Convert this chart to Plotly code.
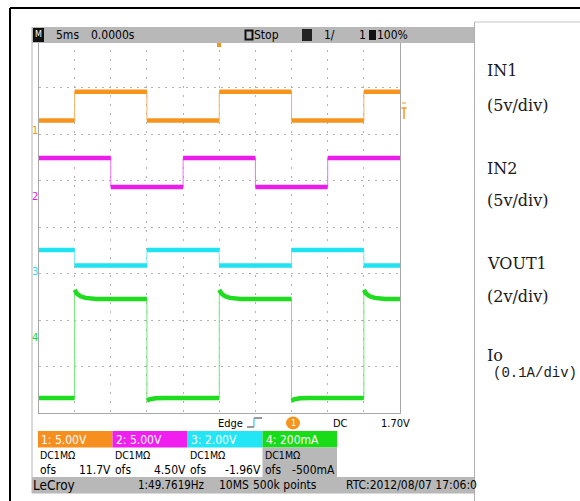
import plotly.graph_objects as go

W, H = 580, 501

time_range_ms = [-25, 25]          # 5 ms/div, 10 divisions, trigger at centre
div_range = [-4, 4]                # 8 vertical divisions

ch_labels = ["1", "2", "3", "4"]
ch_scale = [5.0, 5.0, 2.0, 0.2]            # V/div (A/div for ch4)
ch_offset = [11.7, 4.50, -1.96, -0.50]     # offset in V (A for ch4)
ch_scale_text = ["1: 5.00V", "2: 5.00V", "3: 2.00V", "4: 200mA"]
ch_coupling_text = ["DC1MΩ", "DC1MΩ", "DC1MΩ", "DC1MΩ"]
ch_offset_text = ["11.7V", "4.50V", "-1.96V", "-500mA"]

# segment start times (ms) and levels
ch1_seg_t = [-25, -20, -10, 0, 10, 20]
ch1_seg_v = [-0.25, 2.85, -0.25, 2.85, -0.25, 2.85]
ch2_seg_t = [-25, -15, -5, 5, 15]
ch2_seg_v = [2.92, -0.20, 2.92, -0.20, 2.92]
ch3_seg_t = [-25, -20, -10, 0, 10, 20]
ch3_seg_v = [0.97, 0.30, 0.97, 0.30, 0.97, 0.30]
ch4_seg_t = [-25, -20, -10, 0, 10, 20]
ch4_seg_v = [-0.235, 0.190, -0.235, 0.190, -0.235, 0.190]
# ch4 settling after each edge (ms after edge, extra A)
ch4_rise_dt = [0.0, 0.3, 0.8, 1.5, 3.0]
ch4_rise_extra = [0.040, 0.024, 0.012, 0.005, 0.0]
ch4_fall_dt = [0.0, 0.4, 1.2, 2.5]
ch4_fall_extra = [-0.012, -0.006, -0.002, 0.0]

right_labels = [("IN1", "(5v/div)"), ("IN2", "(5v/div)"), ("VOUT1", "(2v/div)"), ("Io", "(0.1A/div)")]

top_bar_text = ["5ms", "0.0000s", "Stop", "1/", "1", "100%"]
trigger_text = ["Edge", "DC", "1.70V"]
footer_text = ["LeCroy", "1:49.7619Hz", "10MS", "500k points", "RTC:2012/08/07 17:06:0"]

# ---------------- styling ----------------
ch_colors = ["#f7941d", "#ec1cec", "#1fe3f0", "#1edc1e"]
edge_colors = ["#f9b060", "#f070f0", "#70eef6", "#70e870"]
box_colors = ["#f78f1e", "#f01ff0", "#22e6f6", "#18dc18"]
SCOPE = "Liberation Sans Narrow, DejaVu Sans Condensed, Arial Narrow, sans-serif"
SERIF = "DejaVu Serif, Liberation Serif, serif"


def px(x):
    return x / W


def py(y):
    return 1 - y / H


def build(seg_t, seg_v, end, rise=None, fall=None):
    thick_x, thick_y, thin_x, thin_y = [], [], [], []
    for i, (t0, v) in enumerate(zip(seg_t, seg_v)):
        t1 = seg_t[i + 1] if i + 1 < len(seg_t) else end
        pts = [(t0, v)]
        if i > 0 and rise is not None:
            prof = rise if v > seg_v[i - 1] else fall
            pts = [(t0 + dt, v + ex) for dt, ex in zip(*prof) if t0 + dt < t1]
        pts.append((t1, v))
        for t, val in pts:
            thick_x.append(t)
            thick_y.append(val)
            thin_x.append(t)
            thin_y.append(val)
        thick_x.append(None)
        thick_y.append(None)
    return thick_x, thick_y, thin_x, thin_y


def to_div(vals, k):
    return [None if v is None else (v + ch_offset[k]) / ch_scale[k] for v in vals]


fig = go.Figure()
channels = [
    build(ch1_seg_t, ch1_seg_v, time_range_ms[1]),
    build(ch2_seg_t, ch2_seg_v, time_range_ms[1]),
    build(ch3_seg_t, ch3_seg_v, time_range_ms[1]),
    build(ch4_seg_t, ch4_seg_v, time_range_ms[1],
          rise=(ch4_rise_dt, ch4_rise_extra), fall=(ch4_fall_dt, ch4_fall_extra)),
]
for k, (tx, ty, nx, ny) in enumerate(channels):
    fig.add_trace(go.Scatter(x=nx, y=to_div(ny, k), mode="lines",
                             line=dict(color=edge_colors[k], width=1), hoverinfo="skip"))
    fig.add_trace(go.Scatter(x=tx, y=to_div(ty, k), mode="lines", connectgaps=False,
                             line=dict(color=ch_colors[k], width=4.5), hoverinfo="skip"))

shapes = []
ann = []


def rect(x0, y0, x1, y1, fill=None, line=None, lw=1, layer="above"):
    shapes.append(dict(type="rect", xref="paper", yref="paper", x0=px(x0), x1=px(x1),
                       y0=py(y1), y1=py(y0), fillcolor=fill or "rgba(0,0,0,0)",
                       line=dict(color=line or "rgba(0,0,0,0)", width=lw if line else 0),
                       layer=layer))


def seg(x0, y0, x1, y1, color, lw=1):
    shapes.append(dict(type="line", xref="paper", yref="paper", x0=px(x0), x1=px(x1),
                       y0=py(y0), y1=py(y1), line=dict(color=color, width=lw), layer="above"))


def txt(x, y, s, size=12, color="black", family=SCOPE, anchor="left"):
    ann.append(dict(x=px(x), y=py(y), xref="paper", yref="paper", text=s, showarrow=False,
                    xanchor=anchor, yanchor="middle", borderpad=0,
                    font=dict(size=size, color=color, family=family)))


# outer black frame
seg(10, 8, 580, 8, "black", 2)
seg(10, 8, 10, 501, "black", 2)
# right panel box
seg(474.5, 22, 580, 22, "#c4c4c4", 1)
seg(474.5, 22, 474.5, 501, "#b0b0b0", 1)
# scope screen outline
seg(32, 27, 32, 493, "#b4b4b4", 1)
seg(32, 493, 474.5, 493, "#b4b4b4", 1)

# top bar
rect(32, 27, 474, 43, fill="#b8b8b8")
rect(33, 28, 44, 42, fill="#111111")
txt(38.5, 35, "M", size=8, color="white", family="DejaVu Sans", anchor="center")
txt(55, 35, top_bar_text[0])
txt(90, 35, top_bar_text[1])
rect(245.5, 30.5, 252.5, 39.5, line="#111111", lw=2)
txt(253, 35, top_bar_text[2])
rect(302, 29, 312, 41, fill="#222222")
txt(323, 35, top_bar_text[3])
txt(358, 35, top_bar_text[4])
rect(369, 30, 376, 40, fill="#111111")
txt(376, 35, top_bar_text[5])

# trigger position marker (top) and trigger level marker (right)
rect(217, 43, 221, 47, fill=ch_colors[0])
seg(402, 103, 406, 103, ch_colors[0], 1)
seg(401.5, 108, 406.5, 108, ch_colors[0], 1.5)
seg(404, 108, 404, 119, ch_colors[0], 1.5)

# channel ground labels
for k, yy in enumerate([130, 197, 271, 337]):
    txt(35, yy, ch_labels[k], size=11, color=ch_colors[k], family=SCOPE, anchor="center")

# trigger row
txt(217, 423, trigger_text[0], size=11)
seg(247, 427, 254, 427, "#555555", 1.2)
seg(254, 427, 254, 418, "#30c8e8", 1.2)
seg(254, 418, 262, 418, "#555555", 1.2)
shapes.append(dict(type="circle", xref="paper", yref="paper", x0=px(286), x1=px(300),
                   y0=py(429.5), y1=py(416.5), fillcolor=ch_colors[0],
                   line=dict(width=0), layer="above"))
txt(293, 423, "1", size=9, color="white", anchor="center")
txt(332, 423, trigger_text[1], size=11)
txt(380, 423, trigger_text[2], size=11)

# channel table
cols = [38, 112.5, 187.5, 262.5, 337]
for k in range(4):
    x0, x1 = cols[k], cols[k + 1]
    rect(x0, 431, x1, 447.5, fill=box_colors[k])
    if k == 3:
        rect(x0, 447.5, x1, 477, fill="#b8b8b8")
    txt(x0 + 2, 439.5, ch_scale_text[k], size=12, color="white")
    txt(x0 + 1, 455, ch_coupling_text[k], size=10.5)
    txt(x0 + 1, 469.5, "ofs", size=12)
    txt(x1 - 1, 469.5, ch_offset_text[k], size=12, anchor="right")

# footer bar
rect(32, 477, 474, 493, fill="#b8b8b8")
txt(32, 485, footer_text[0], size=13.5, family="Liberation Sans Narrow, DejaVu Sans Condensed, sans-serif")
txt(137, 485, footer_text[1], size=11.5)
txt(218, 485, footer_text[2])
txt(252, 485, footer_text[3])
txt(345, 485, footer_text[4])

# right-hand legend text
label_y = [(71, 105), (168, 201), (263, 296), (355, 373)]
for (top, bottom), (y1, y2) in zip(right_labels, label_y):
    txt(486, y1, top, size=16, color="#1a1a1a", family=SERIF)
    if bottom.startswith("(0.1"):
        txt(492, y2, bottom, size=14, color="#1a1a1a", family="Liberation Mono, DejaVu Sans Mono, monospace")
    else:
        txt(486, y2, bottom, size=16, color="#1a1a1a", family=SERIF)

axis_common = dict(showticklabels=False, ticks="", zeroline=False, showline=True,
                   linecolor="#a8a8a8", linewidth=1, mirror=True, showgrid=True,
                   gridcolor="#b2b2b2", gridwidth=1, fixedrange=True)

fig.update_layout(
    width=W, height=H,
    margin=dict(l=0, r=0, t=0, b=0),
    paper_bgcolor="white", plot_bgcolor="white",
    showlegend=False,
    xaxis=dict(domain=[px(38.5), px(400)], range=time_range_ms, dtick=5, tick0=-25,
               griddash="2px,7px", **axis_common),
    yaxis=dict(domain=[py(413), py(41)], range=div_range, dtick=1, tick0=-4,
               griddash="2px,5px", **axis_common),
    shapes=shapes,
    annotations=ann,
)

fig.write_html("out.html", post_script="document.body.style.margin='0px';",
               config={"displayModeBar": False})
